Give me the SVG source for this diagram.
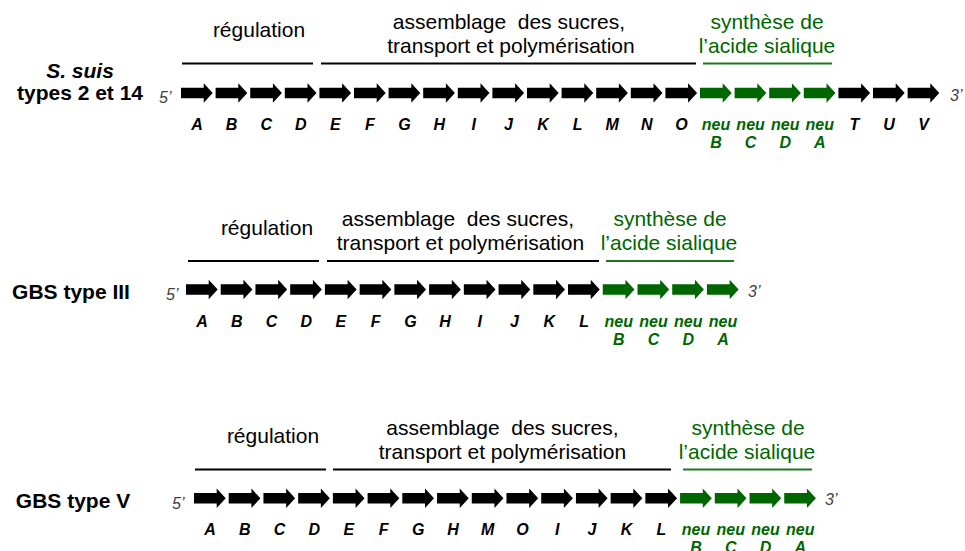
<svg xmlns="http://www.w3.org/2000/svg" xmlns:xlink="http://www.w3.org/1999/xlink" width="965" height="551" viewBox="0 0 965 551">
<style>
text{font-family:"Liberation Sans",Arial,sans-serif}
.hd{font-size:21px;fill:#000;text-anchor:middle;white-space:pre}
.hg{font-size:21px;fill:#006600;text-anchor:middle}
.sp{font-size:21px;font-weight:bold;fill:#000;text-anchor:middle}
.gl{font-size:16px;font-weight:bold;font-style:italic;fill:#000;text-anchor:middle}
.gg{font-size:16px;font-weight:bold;font-style:italic;fill:#006600;text-anchor:middle}
.end{font-size:16px;font-style:italic;fill:#404040}
.k{fill:#000}
.g{fill:#006600}
.lk{stroke:#000;stroke-width:2}
.lg{stroke:#1a7a1a;stroke-width:2}
</style>
<defs>
<path id="a" d="M0,-5.3H22.7V-9.7L31.7,0L22.7,9.7V5.3H0Z"/>
</defs>
<rect width="965" height="551" fill="#fff"/>

<!-- Row 1: S. suis -->
<g id="row1">
<g id="label1"><text class="sp" x="80" y="78" font-style="italic">S. suis</text><text class="sp" x="80" y="100">types 2 et 14</text></g>
<g id="headers1">
<text class="hd" x="259" y="37">régulation</text>
<text class="hd" x="509" y="29">assemblage  des sucres,</text>
<text class="hd" x="511" y="53">transport et polymérisation</text>
<text class="hg" x="767" y="29">synthèse de</text>
<text class="hg" x="767" y="53">l’acide sialique</text>
</g>
<g id="brackets1">
<line class="lk" x1="182" y1="63.5" x2="313" y2="63.5"/>
<line class="lk" x1="321" y1="63.5" x2="696" y2="63.5"/>
<line class="lg" x1="703" y1="63.5" x2="832" y2="63.5"/>
</g>
<text class="end" x="159" y="103">5’</text>
<text class="end" x="950" y="101">3’</text>
<g id="r1A"><use href="#a" class="k" x="181" y="93"/><text class="gl" x="197" y="130">A</text></g>
<g id="r1B"><use href="#a" class="k" x="215.6" y="93"/><text class="gl" x="231.6" y="130">B</text></g>
<g id="r1C"><use href="#a" class="k" x="250.2" y="93"/><text class="gl" x="266.2" y="130">C</text></g>
<g id="r1D"><use href="#a" class="k" x="284.8" y="93"/><text class="gl" x="300.8" y="130">D</text></g>
<g id="r1E"><use href="#a" class="k" x="319.4" y="93"/><text class="gl" x="335.4" y="130">E</text></g>
<g id="r1F"><use href="#a" class="k" x="354" y="93"/><text class="gl" x="370" y="130">F</text></g>
<g id="r1G"><use href="#a" class="k" x="388.6" y="93"/><text class="gl" x="404.6" y="130">G</text></g>
<g id="r1H"><use href="#a" class="k" x="423.2" y="93"/><text class="gl" x="439.2" y="130">H</text></g>
<g id="r1I"><use href="#a" class="k" x="457.8" y="93"/><text class="gl" x="473.8" y="130">I</text></g>
<g id="r1J"><use href="#a" class="k" x="492.4" y="93"/><text class="gl" x="508.4" y="130">J</text></g>
<g id="r1K"><use href="#a" class="k" x="527" y="93"/><text class="gl" x="543" y="130">K</text></g>
<g id="r1L"><use href="#a" class="k" x="561.6" y="93"/><text class="gl" x="577.6" y="130">L</text></g>
<g id="r1M"><use href="#a" class="k" x="596.2" y="93"/><text class="gl" x="612.2" y="130">M</text></g>
<g id="r1N"><use href="#a" class="k" x="630.8" y="93"/><text class="gl" x="646.8" y="130">N</text></g>
<g id="r1O"><use href="#a" class="k" x="665.4" y="93"/><text class="gl" x="681.4" y="130">O</text></g>
<g id="r1neuB"><use href="#a" class="g" x="700" y="93"/><text class="gg" x="716" y="130">neu</text><text class="gg" x="716" y="148">B</text></g>
<g id="r1neuC"><use href="#a" class="g" x="734.6" y="93"/><text class="gg" x="750.6" y="130">neu</text><text class="gg" x="750.6" y="148">C</text></g>
<g id="r1neuD"><use href="#a" class="g" x="769.2" y="93"/><text class="gg" x="785.2" y="130">neu</text><text class="gg" x="785.2" y="148">D</text></g>
<g id="r1neuA"><use href="#a" class="g" x="803.8" y="93"/><text class="gg" x="819.8" y="130">neu</text><text class="gg" x="819.8" y="148">A</text></g>
<g id="r1T"><use href="#a" class="k" x="838.4" y="93"/><text class="gl" x="854.4" y="130">T</text></g>
<g id="r1U"><use href="#a" class="k" x="873" y="93"/><text class="gl" x="889" y="130">U</text></g>
<g id="r1V"><use href="#a" class="k" x="907.6" y="93"/><text class="gl" x="923.6" y="130">V</text></g>
</g>

<!-- Row 2: GBS type III -->
<g id="row2">
<g id="label2"><text class="sp" x="71" y="299">GBS type III</text></g>
<g id="headers2">
<text class="hd" x="267" y="235">régulation</text>
<text class="hd" x="458" y="226">assemblage  des sucres,</text>
<text class="hd" x="460.5" y="250">transport et polymérisation</text>
<text class="hg" x="670" y="226">synthèse de</text>
<text class="hg" x="669" y="250">l’acide sialique</text>
</g>
<g id="brackets2">
<line class="lk" x1="188" y1="261" x2="319" y2="261"/>
<line class="lk" x1="327" y1="261" x2="599" y2="261"/>
<line class="lg" x1="606" y1="261" x2="734" y2="261"/>
</g>
<text class="end" x="166" y="300">5’</text>
<text class="end" x="748" y="297">3’</text>
<g id="r2A"><use href="#a" class="k" x="186" y="289.5"/><text class="gl" x="202" y="327">A</text></g>
<g id="r2B"><use href="#a" class="k" x="220.73" y="289.5"/><text class="gl" x="236.73" y="327">B</text></g>
<g id="r2C"><use href="#a" class="k" x="255.46" y="289.5"/><text class="gl" x="271.46" y="327">C</text></g>
<g id="r2D"><use href="#a" class="k" x="290.19" y="289.5"/><text class="gl" x="306.19" y="327">D</text></g>
<g id="r2E"><use href="#a" class="k" x="324.92" y="289.5"/><text class="gl" x="340.92" y="327">E</text></g>
<g id="r2F"><use href="#a" class="k" x="359.65" y="289.5"/><text class="gl" x="375.65" y="327">F</text></g>
<g id="r2G"><use href="#a" class="k" x="394.38" y="289.5"/><text class="gl" x="410.38" y="327">G</text></g>
<g id="r2H"><use href="#a" class="k" x="429.11" y="289.5"/><text class="gl" x="445.11" y="327">H</text></g>
<g id="r2I"><use href="#a" class="k" x="463.84" y="289.5"/><text class="gl" x="479.84" y="327">I</text></g>
<g id="r2J"><use href="#a" class="k" x="498.57" y="289.5"/><text class="gl" x="514.57" y="327">J</text></g>
<g id="r2K"><use href="#a" class="k" x="533.3" y="289.5"/><text class="gl" x="549.3" y="327">K</text></g>
<g id="r2L"><use href="#a" class="k" x="568.03" y="289.5"/><text class="gl" x="584.03" y="327">L</text></g>
<g id="r2neuB"><use href="#a" class="g" x="602.76" y="289.5"/><text class="gg" x="618.76" y="327">neu</text><text class="gg" x="618.76" y="345">B</text></g>
<g id="r2neuC"><use href="#a" class="g" x="637.49" y="289.5"/><text class="gg" x="653.49" y="327">neu</text><text class="gg" x="653.49" y="345">C</text></g>
<g id="r2neuD"><use href="#a" class="g" x="672.22" y="289.5"/><text class="gg" x="688.22" y="327">neu</text><text class="gg" x="688.22" y="345">D</text></g>
<g id="r2neuA"><use href="#a" class="g" x="706.95" y="289.5"/><text class="gg" x="722.95" y="327">neu</text><text class="gg" x="722.95" y="345">A</text></g>
</g>

<!-- Row 3: GBS type V -->
<g id="row3">
<g id="label3"><text class="sp" x="73" y="508">GBS type V</text></g>
<g id="headers3">
<text class="hd" x="273" y="443">régulation</text>
<text class="hd" x="502.5" y="435">assemblage  des sucres,</text>
<text class="hd" x="502.5" y="459">transport et polymérisation</text>
<text class="hg" x="748" y="435">synthèse de</text>
<text class="hg" x="747" y="459">l’acide sialique</text>
</g>
<g id="brackets3">
<line class="lk" x1="195" y1="469.5" x2="326" y2="469.5"/>
<line class="lk" x1="333" y1="469.5" x2="671" y2="469.5"/>
<line class="lg" x1="683" y1="469.5" x2="812" y2="469.5"/>
</g>
<text class="end" x="172" y="509">5’</text>
<text class="end" x="825" y="505">3’</text>
<g id="r3A"><use href="#a" class="k" x="194" y="498.3"/><text class="gl" x="210" y="535">A</text></g>
<g id="r3B"><use href="#a" class="k" x="228.72" y="498.3"/><text class="gl" x="244.72" y="535">B</text></g>
<g id="r3C"><use href="#a" class="k" x="263.44" y="498.3"/><text class="gl" x="279.44" y="535">C</text></g>
<g id="r3D"><use href="#a" class="k" x="298.16" y="498.3"/><text class="gl" x="314.16" y="535">D</text></g>
<g id="r3E"><use href="#a" class="k" x="332.88" y="498.3"/><text class="gl" x="348.88" y="535">E</text></g>
<g id="r3F"><use href="#a" class="k" x="367.6" y="498.3"/><text class="gl" x="383.6" y="535">F</text></g>
<g id="r3G"><use href="#a" class="k" x="402.32" y="498.3"/><text class="gl" x="418.32" y="535">G</text></g>
<g id="r3H"><use href="#a" class="k" x="437.04" y="498.3"/><text class="gl" x="453.04" y="535">H</text></g>
<g id="r3M"><use href="#a" class="k" x="471.76" y="498.3"/><text class="gl" x="487.76" y="535">M</text></g>
<g id="r3O"><use href="#a" class="k" x="506.48" y="498.3"/><text class="gl" x="522.48" y="535">O</text></g>
<g id="r3I"><use href="#a" class="k" x="541.2" y="498.3"/><text class="gl" x="557.2" y="535">I</text></g>
<g id="r3J"><use href="#a" class="k" x="575.92" y="498.3"/><text class="gl" x="591.92" y="535">J</text></g>
<g id="r3K"><use href="#a" class="k" x="610.64" y="498.3"/><text class="gl" x="626.64" y="535">K</text></g>
<g id="r3L"><use href="#a" class="k" x="645.36" y="498.3"/><text class="gl" x="661.36" y="535">L</text></g>
<g id="r3neuB"><use href="#a" class="g" x="680.08" y="498.3"/><text class="gg" x="696.08" y="535">neu</text><text class="gg" x="696.08" y="553">B</text></g>
<g id="r3neuC"><use href="#a" class="g" x="714.8" y="498.3"/><text class="gg" x="730.8" y="535">neu</text><text class="gg" x="730.8" y="553">C</text></g>
<g id="r3neuD"><use href="#a" class="g" x="749.52" y="498.3"/><text class="gg" x="765.52" y="535">neu</text><text class="gg" x="765.52" y="553">D</text></g>
<g id="r3neuA"><use href="#a" class="g" x="784.24" y="498.3"/><text class="gg" x="800.24" y="535">neu</text><text class="gg" x="800.24" y="553">A</text></g>
</g>
</svg>
